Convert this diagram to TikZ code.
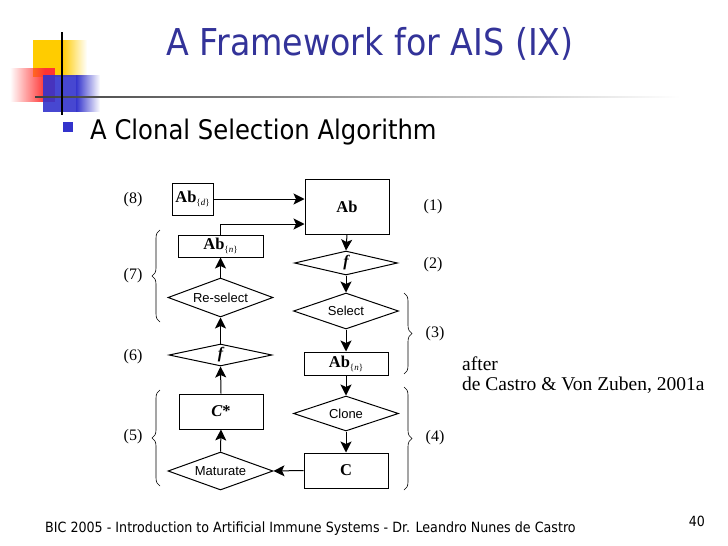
\documentclass[tikz,border=0pt]{standalone}
\usepackage{fontspec}
\setmainfont{Liberation Serif}
\newfontfamily\tahoma[FakeStretch=0.9]{DejaVu Sans}
\newfontfamily\arial{Liberation Sans}
\usetikzlibrary{shapes.geometric,arrows.meta,decorations.pathreplacing,fadings}
\definecolor{titleblue}{HTML}{333399}
\definecolor{bulletblue}{HTML}{3333CC}
\definecolor{logoyellow}{HTML}{FFCC00}
\definecolor{logored}{HTML}{FF3333}
\definecolor{logoblue}{HTML}{3333CC}
\tikzset{
  box/.style={draw, line width=1pt, inner sep=0pt, font=\fontsize{16.5}{17}\selectfont},
  dia/.style={draw, diamond, line width=1pt, inner sep=0pt, aspect=3, font=\arial\fontsize{13}{13}\selectfont},
  flow/.style={line width=1pt, -{Stealth[length=11pt,width=11pt,inset=2.5pt]}},
  lab/.style={inner sep=0pt, font=\fontsize{16}{16}\selectfont},
  brc/.style={decorate, decoration={brace, amplitude=8pt}, line width=0.6pt}
}
\newcommand{\subsc}[1]{\raisebox{-3pt}{\fontsize{9}{9}\selectfont\{\textit{#1}\}}}
\begin{document}
\begin{tikzpicture}[x=1pt,y=-1pt]
\useasboundingbox (0,0) rectangle (728,546);
% logo
\fill[logoyellow] (33,40) rectangle (62,77);
\fill[logoyellow, path fading=east] (62,40) rectangle (87,77);
\fill[logored, path fading=west] (10,68) rectangle (45,102);
\fill[logored] (45,68) rectangle (55,102);
\fill[logoblue, fill opacity=0.9] (43,75) rectangle (76,112);
\fill[logoblue, path fading=east] (76,75) rectangle (100,112);
\shade[left color=black!75, right color=white] (35,96.3) rectangle (680,97.7);
\draw[line width=1.6pt] (62,32) -- (62,115);
% title
\node[anchor=base, inner sep=0pt, text=titleblue, font=\tahoma\fontsize{37}{37}\selectfont] (title) at (370,55) {A Framework for AIS (IX)};
\fill[bulletblue] (63,122) rectangle (73,132);
\node[anchor=base west, inner sep=0pt, font=\tahoma\fontsize{27}{27}\selectfont] (sub) at (90,139) {A Clonal Selection Algorithm};
% boxes
\node[box, minimum width=41pt, minimum height=32pt] (abd) at (192.5,199) {\textbf{Ab}\subsc{d}};
\node[box, minimum width=84pt, minimum height=55pt] (ab) at (347,206.5) {\textbf{Ab}};
\node[box, minimum width=85pt, minimum height=22pt] (abnl) at (220.5,246) {\textbf{Ab}\subsc{n}};
\node[dia, minimum width=103pt, minimum height=24pt] (f2) at (346,263) {\fontsize{16}{16}\rmfamily\bfseries\itshape f};
\node[dia, minimum width=105pt, minimum height=36pt] (select) at (346,311) {Select};
\node[dia, minimum width=105pt, minimum height=39pt] (resel) at (220.5,297.5) {Re-select};
\node[dia, minimum width=103pt, minimum height=22pt] (f6) at (220.5,355) {\fontsize{16}{16}\rmfamily\bfseries\itshape f};
\node[box, minimum width=84pt, minimum height=23pt] (abnr) at (346,363.5) {\textbf{Ab}\subsc{n}};
\node[box, minimum width=84pt, minimum height=35pt] (cstar) at (221,411.5) {\textbf{\textit{C}*}};
\node[dia, minimum width=105pt, minimum height=35pt] (clone) at (346,413.5) {Clone};
\node[box, minimum width=84pt, minimum height=35pt] (c) at (346,470.5) {\textbf{C}};
\node[dia, minimum width=105pt, minimum height=38pt] (mat) at (220.5,471) {Maturate};
% connectors
\draw[flow] (abd.east) -- (abd.east -| ab.west);
\draw[flow] (abnl.north) |- ([yshift=-17.5pt]ab.west);
\draw[flow] (ab.south) -- (f2.north);
\draw[flow] (f2.south) -- (select.north);
\draw[flow] (select.south) -- (abnr.north);
\draw[flow] (abnr.south) -- (clone.north);
\draw[flow] (clone.south) -- (c.north);
\draw[flow] (c.west) -- (mat.east);
\draw[flow] (mat.north) -- (cstar.south);
\draw[flow] (cstar.north) -- (f6.south);
\draw[flow] (f6.north) -- (resel.south);
\draw[flow] (resel.north) -- (abnl.south);
% labels
\node[lab] (l8) at (133,200) {(8)};
\node[lab] (l1) at (433,207) {(1)};
\node[lab] (l2) at (433,265) {(2)};
\node[lab] (l7) at (133,276) {(7)};
\node[lab] (l3) at (435,334) {(3)};
\node[lab] (l6) at (133,357) {(6)};
\node[lab] (l5) at (133,437) {(5)};
\node[lab] (l4) at (435,438) {(4)};
\draw[brc] (160,322) -- (160,230);
\draw[brc] (160,486) -- (160,390);
\draw[brc] (404,293) -- (404,374);
\draw[brc] (404,387) -- (404,490);
% citation
\node[anchor=base west, inner sep=0pt, align=left, font=\fontsize{19.5}{20}\selectfont] (cite) at (462,390) {after\\de Castro \& Von Zuben, 2001a};
% footer
\node[anchor=base west, inner sep=0pt, font=\tahoma\fontsize{14.1}{14}\selectfont] (foot) at (45,532) {BIC 2005 - Introduction to Artificial Immune Systems - Dr. Leandro Nunes de Castro};
\node[anchor=base east, inner sep=0pt, font=\tahoma\fontsize{14}{14}\selectfont] (page) at (705,526) {40};
\end{tikzpicture}
\end{document}
